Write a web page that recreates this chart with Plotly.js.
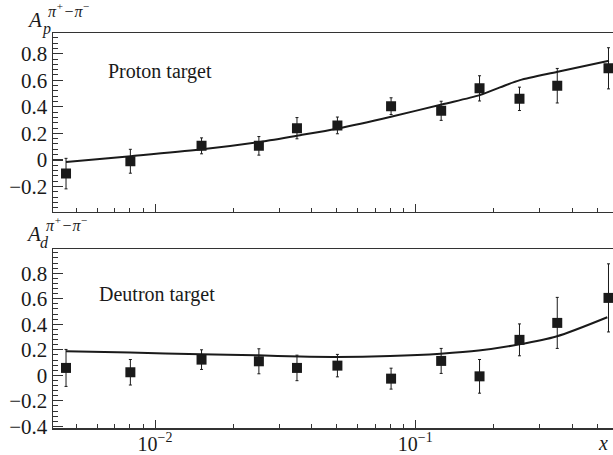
<!DOCTYPE html>
<html>
<head>
<meta charset="utf-8">
<script src="https://cdn.plot.ly/plotly-3.0.1.min.js"></script>
<style>html,body{margin:0;padding:0;background:#fff;overflow:hidden;width:613px;height:455px;}</style>
</head>
<body>
<div id="chart" style="width:613px;height:455px;overflow:hidden;"></div>
<script>
// ---- data ----
var xBins = [0.00455, 0.00804, 0.01509, 0.02506, 0.0351, 0.0502, 0.0807, 0.1257, 0.1765, 0.2513, 0.351, 0.5523];

var protonA   = [-0.103, -0.010, 0.106, 0.106, 0.239, 0.260, 0.405, 0.370, 0.539, 0.460, 0.559, 0.690];
var protonErr = [0.115, 0.090, 0.060, 0.070, 0.080, 0.063, 0.063, 0.072, 0.095, 0.088, 0.130, 0.155];

var deutronA   = [0.058, 0.024, 0.123, 0.110, 0.058, 0.076, -0.026, 0.113, -0.008, 0.278, 0.411, 0.607];
var deutronErr = [0.145, 0.100, 0.077, 0.098, 0.100, 0.088, 0.082, 0.098, 0.132, 0.125, 0.200, 0.267];

var protonCurveX = [0.004549, 0.008063, 0.01489, 0.02531, 0.03606, 0.05047, 0.08063, 0.1263, 0.1768, 0.2115, 0.2524, 0.3524, 0.5549];
var protonCurveY = [-0.015, 0.028, 0.078, 0.136, 0.186, 0.237, 0.325, 0.418, 0.488, 0.546, 0.601, 0.664, 0.747];

var deutronCurveX = [0.00455, 0.00802, 0.01502, 0.02480, 0.03606, 0.04989, 0.07993, 0.1252, 0.1752, 0.2487, 0.3480, 0.5465];
var deutronCurveY = [0.188, 0.178, 0.165, 0.157, 0.147, 0.144, 0.152, 0.170, 0.194, 0.241, 0.304, 0.455];

var xTickVals = [0.01, 0.1];
var xTickText = ['10<sup>\u22122</sup>', '10<sup>\u22121</sup>'];
var xMinorVals = [0.005, 0.006, 0.007, 0.008, 0.009, 0.02, 0.03, 0.04, 0.05, 0.06, 0.07, 0.08, 0.09, 0.2, 0.3, 0.4, 0.5];
var yTickValsTop = [-0.2, 0, 0.2, 0.4, 0.6, 0.8];
var yTickTextTop = ['\u22120.2', '0', '0.2', '0.4', '0.6', '0.8'];
var yTickValsBot = [-0.4, -0.2, 0, 0.2, 0.4, 0.6, 0.8];
var yTickTextBot = ['\u22120.4', '\u22120.2', '0', '0.2', '0.4', '0.6', '0.8'];

// ---- styling ----
var ink = '#1a1a1a';
var axisInk = '#333333';
var serif = 'Liberation Serif, Times New Roman, serif';

function pointsTrace(y, err, xa, ya) {
  return {
    x: xBins, y: y, xaxis: xa, yaxis: ya, type: 'scatter', mode: 'markers',
    marker: {symbol: 'square', size: 10, color: ink},
    error_y: {type: 'data', array: err, visible: true, thickness: 1, width: 1.5, color: ink},
    hoverinfo: 'skip'
  };
}
function curveTrace(x, y, xa, ya) {
  return {
    x: x, y: y, xaxis: xa, yaxis: ya, type: 'scatter', mode: 'lines',
    line: {color: ink, width: 2, shape: 'spline', smoothing: 0.8},
    hoverinfo: 'skip'
  };
}

var data = [
  curveTrace(protonCurveX, protonCurveY, 'x', 'y'),
  pointsTrace(protonA, protonErr, 'x', 'y'),
  curveTrace(deutronCurveX, deutronCurveY, 'x2', 'y2'),
  pointsTrace(deutronA, deutronErr, 'x2', 'y2')
];

var L = 53, R = 0, T = 33, B = 27, W = 613, H = 455;
var PW = W - L - R, PH = H - T - B;
function px(x) { return (x - L) / PW; }
function py(y) { return (H - B - y) / PH; }

function xAxis(anchor, labels) {
  return {
    type: 'log', range: [-2.392, -0.2405], domain: [0, 1], anchor: anchor,
    tickmode: 'array', tickvals: xTickVals, ticktext: xTickText,
    showticklabels: labels, ticks: 'inside', ticklen: 8, tickwidth: 1, tickcolor: axisInk,
    ticklabelstandoff: -3,
    minor: {tickmode: 'array', tickvals: xMinorVals, ticks: 'inside', ticklen: 4, tickwidth: 1, tickcolor: axisInk, showgrid: false},
    showline: true, mirror: true, linewidth: 1.5, linecolor: axisInk,
    showgrid: false, zeroline: false,
    tickfont: {family: serif, size: 20, color: ink}
  };
}
function yAxis(anchor, domain, range, vals, text) {
  return {
    domain: domain, range: range, anchor: anchor,
    tickmode: 'array', tickvals: vals, ticktext: text,
    ticks: 'inside', ticklen: 10, tickwidth: 1.2, tickcolor: axisInk,
    minor: {tick0: 0, dtick: 0.04, ticks: 'inside', ticklen: 5, tickwidth: 1, tickcolor: axisInk, showgrid: false},
    showline: true, mirror: false, linewidth: 1.5, linecolor: axisInk,
    showgrid: false, zeroline: false,
    tickfont: {family: serif, size: 21, color: ink}
  };
}

function note(text, x, y, size, xanchor, italic) {
  return {
    text: text, xref: 'paper', yref: 'paper', x: px(x), y: py(y),
    xanchor: xanchor || 'center', yanchor: 'middle', showarrow: false,
    font: {family: serif, size: size, color: ink, style: italic ? 'italic' : 'normal'}
  };
}

var layout = {
  width: W, height: H,
  margin: {l: L, r: R, t: T, b: B},
  paper_bgcolor: '#fff', plot_bgcolor: '#fff',
  showlegend: false,
  xaxis: xAxis('y', false),
  yaxis: yAxis('x', [py(211.7), 1], [-0.39, 0.956], yTickValsTop, yTickTextTop),
  xaxis2: xAxis('y2', true),
  yaxis2: yAxis('x2', [0, py(249.3)], [-0.413, 0.988], yTickValsBot, yTickTextBot),
  annotations: [
    note('Proton target', 160, 72, 20),
    note('Deutron target', 157, 294, 20),
    note('A', 34, 20, 21, 'center', true),
    note('p', 39.5, 29, 16, 'left', true),
    note('\u03c0<sup>+</sup>\u2212\u03c0<sup>\u2212</sup>', 46, 10, 16, 'left', true),
    note('A', 33, 233.5, 21, 'center', true),
    note('d', 38, 243, 16, 'left', true),
    note('\u03c0<sup>+</sup>\u2212\u03c0<sup>\u2212</sup>', 44, 224, 16, 'left', true),
    note('x', 603, 443, 20, 'center', true)
  ]
};

Plotly.newPlot('chart', data, layout, {staticPlot: true, displayModeBar: false});
</script>
</body>
</html>
